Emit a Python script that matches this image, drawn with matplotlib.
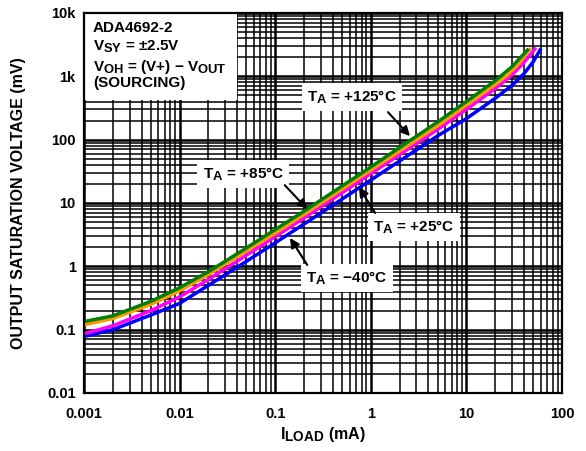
import matplotlib
matplotlib.use("Agg")
import matplotlib.pyplot as plt
import matplotlib._mathtext as _mt
from matplotlib.patches import Rectangle
from matplotlib.ticker import FixedLocator, FixedFormatter, LogLocator, NullFormatter

_mt.SHRINK_FACTOR = 0.85

plt.rcParams['font.family'] = ['Liberation Sans', 'DejaVu Sans']
plt.rcParams['font.weight'] = 'bold'
plt.rcParams['mathtext.fontset'] = 'custom'
plt.rcParams['mathtext.rm'] = 'Liberation Sans:bold'
plt.rcParams['mathtext.bf'] = 'Liberation Sans:bold'
plt.rcParams['mathtext.it'] = 'Liberation Sans:bold'

# ---- data (I_LOAD in mA, output saturation voltage in mV) ----
i_125 = [0.001, 0.002, 0.005, 0.01, 0.02, 0.05, 0.1, 0.2, 0.5, 1, 2, 5, 10, 20, 30, 43.5]
v_125 = [0.134, 0.165, 0.28, 0.46, 0.82, 1.95, 3.8, 7.4, 18.5, 37, 75, 190, 400, 850, 1420, 2600]

i_85 = [0.001, 0.002, 0.005, 0.01, 0.02, 0.05, 0.1, 0.2, 0.5, 1, 2, 5, 10, 20, 27, 35, 46]
v_85 = [0.119, 0.15, 0.25, 0.41, 0.74, 1.75, 3.34, 6.6, 16.5, 33, 66, 165, 350, 740, 1050, 1550, 2650]

i_25 = [0.001, 0.002, 0.005, 0.01, 0.02, 0.05, 0.1, 0.2, 0.5, 1, 2, 5, 10, 20, 30, 40, 52]
v_25 = [0.086, 0.115, 0.20, 0.33, 0.62, 1.5, 2.94, 5.8, 14.5, 29, 58, 145, 300, 640, 1050, 1650, 2700]

i_m40 = [0.001, 0.002, 0.005, 0.01, 0.02, 0.05, 0.1, 0.2, 0.5, 1, 2, 5, 10, 20, 30, 40, 50, 59]
v_m40 = [0.078, 0.10, 0.17, 0.26, 0.50, 1.2, 2.35, 4.65, 11.5, 23, 46, 115, 215, 450, 720, 1100, 1700, 2600]

x_ticks = [0.001, 0.01, 0.1, 1, 10, 100]
x_labels = ['0.001', '0.01', '0.1', '1', '10', '100']
y_ticks = [0.01, 0.1, 1, 10, 100, 1000, 10000]
y_labels = ['0.01', '0.1', '1', '10', '100', '1k', '10k']

fig = plt.figure(figsize=(5.86, 4.51), dpi=100)
ax = fig.add_axes([84/586, 58/451, 478/586, 380/451])
ax.set_xscale('log')
ax.set_yscale('log')
ax.set_xlim(0.001, 100)
ax.set_ylim(0.01, 10000)

ax.xaxis.set_major_locator(FixedLocator(x_ticks))
ax.xaxis.set_major_formatter(FixedFormatter(x_labels))
ax.yaxis.set_major_locator(FixedLocator(y_ticks))
ax.yaxis.set_major_formatter(FixedFormatter(y_labels))
ax.xaxis.set_minor_locator(LogLocator(base=10, subs=range(2, 10), numticks=20))
ax.yaxis.set_minor_locator(LogLocator(base=10, subs=range(2, 10), numticks=20))
ax.xaxis.set_minor_formatter(NullFormatter())
ax.yaxis.set_minor_formatter(NullFormatter())
ax.tick_params(which='both', length=0, labelsize=10.5)
ax.tick_params(axis='x', pad=10)
ax.tick_params(axis='y', pad=6)
for lab in ax.get_xticklabels() + ax.get_yticklabels():
    lab.set_fontweight('bold')

ax.grid(which='major', color='black', lw=1.8)
ax.grid(which='minor', color='black', lw=1.1)
ax.set_axisbelow(True)
for s in ax.spines.values():
    s.set_linewidth(1.6)
    s.set_zorder(5)

ax.plot(i_m40, v_m40, color='#0000ff', lw=2.5, zorder=3)
ax.plot(i_25, v_25, color='#ff00ff', lw=2.5, zorder=3)
ax.plot(i_85, v_85, color='#ff9900', lw=2.5, zorder=3)
ax.plot(i_125, v_125, color='#008000', lw=2.5, zorder=3)

ax.set_xlabel('I$_{\\rm LOAD}$ (mA)', fontsize=11.5, fontweight='bold')
ax.set_ylabel('OUTPUT SATURATION VOLTAGE (mV)', fontsize=11.5, fontweight='bold')
ax.xaxis.set_label_coords(0.5, -0.085)
ax.yaxis.set_label_coords(-0.121, 0.5)

# info box
ax.add_patch(Rectangle((0, 0.771), 0.32, 0.229, transform=ax.transAxes,
                       facecolor='white', edgecolor='none', zorder=4))
info = ['ADA4692-2', 'V$_{\\rm SY}$ = ±2.5V', 'V$_{\\rm OH}$ = (V+) − V$_{\\rm OUT}$', '(SOURCING)']
info_y = [0.961, 0.912, 0.858, 0.816]
for t, yy in zip(info, info_y):
    ax.text(0.019, yy, t, transform=ax.transAxes, fontsize=11, fontweight='bold',
            va='center', ha='left', zorder=6)

bbox = dict(boxstyle='square,pad=0.35', facecolor='white', edgecolor='none')
arrow = dict(arrowstyle='-|>', color='black', lw=1.5, mutation_scale=14, shrinkA=0, shrinkB=0)

labels = ['T$_{\\rm A}$ = +125°C', 'T$_{\\rm A}$ = +85°C', 'T$_{\\rm A}$ = +25°C', 'T$_{\\rm A}$ = −40°C']
text_pos = [(0.561, 0.779), (0.333, 0.576), (0.690, 0.437), (0.550, 0.303)]
tail_pos = [(0.636, 0.739), (0.420, 0.547), (0.609, 0.474), (0.467, 0.337)]
head_pos = [(0.682, 0.676), (0.467, 0.484), (0.575, 0.542), (0.431, 0.408)]
for t, tp, tl, hd in zip(labels, text_pos, tail_pos, head_pos):
    ax.annotate('', xy=hd, xytext=tl, xycoords='axes fraction', textcoords='axes fraction',
                arrowprops=arrow, zorder=7)
    ax.text(tp[0], tp[1], t, transform=ax.transAxes, fontsize=11, fontweight='bold',
            ha='center', va='center', bbox=bbox, zorder=6)

fig.savefig('out.png', dpi=100)
